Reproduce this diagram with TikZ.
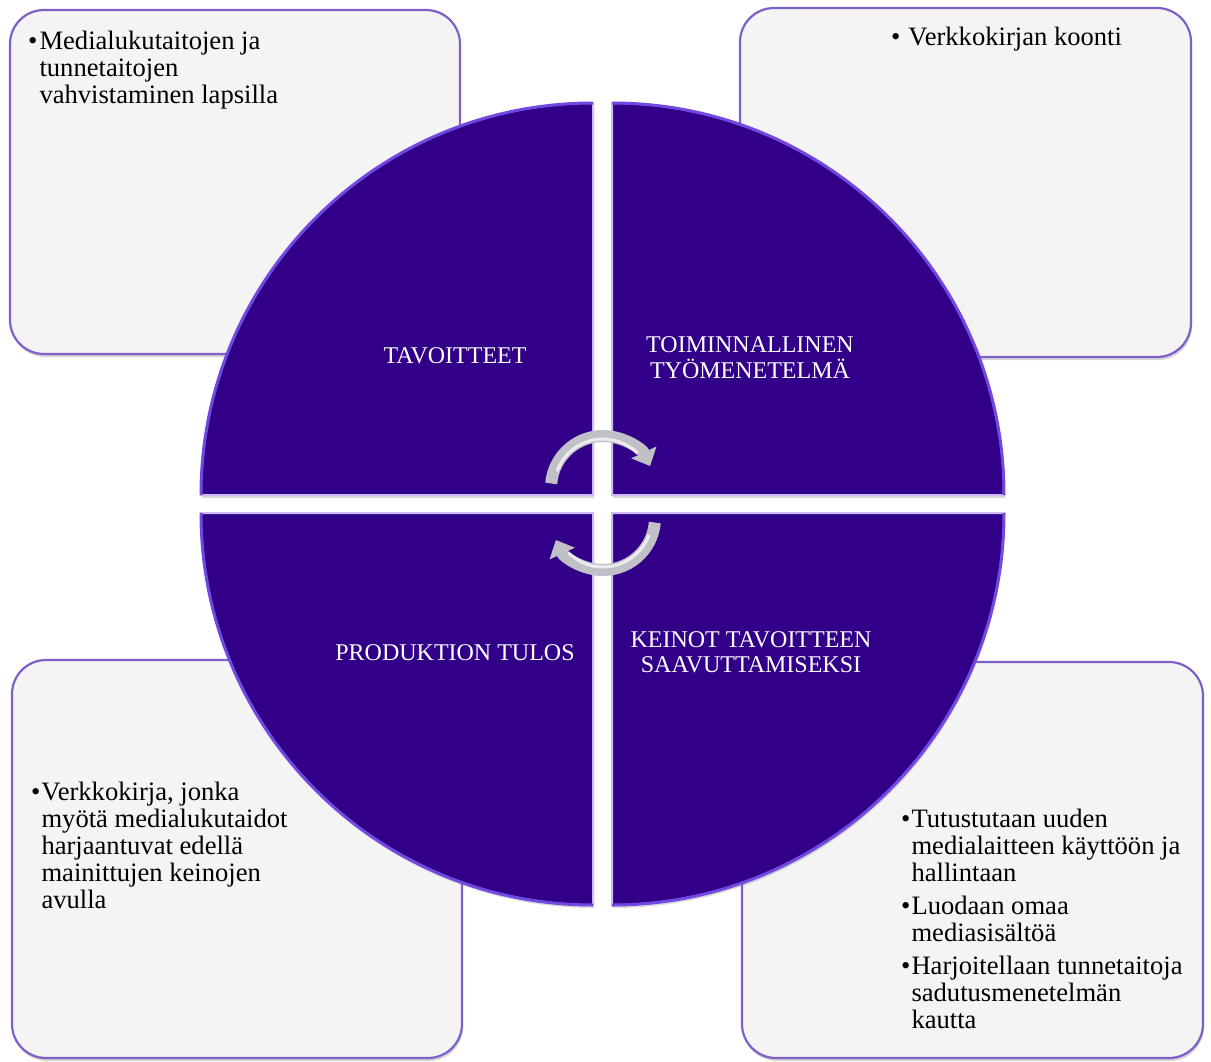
\documentclass[tikz,border=0pt]{standalone}
\usepackage{fontspec}
\setmainfont{Liberation Serif}
\usetikzlibrary{arrows.meta, shadows}
\definecolor{discpurple}{RGB}{50,0,136}
\definecolor{rimpurple}{RGB}{112,72,226}
\definecolor{edgelilac}{RGB}{205,185,245}
\definecolor{boxline}{RGB}{128,96,200}
\definecolor{boxfill}{RGB}{244,244,244}
\definecolor{silver}{RGB}{192,192,198}
\newcommand\bodyfont{\fontsize{26.6}{27}\selectfont}
\newcommand\titlefont{\fontsize{24}{25}\selectfont}

\begin{document}
\begin{tikzpicture}[x=1pt,y=-1pt,
  infobox/.style={draw=boxline, line width=2.2pt, fill=boxfill, rounded corners=34pt,
    drop shadow={opacity=.35,shadow xshift=1pt,shadow yshift=-3pt}},
  bullets/.style={anchor=base west, inner sep=0pt, font=\bodyfont},
  title/.style={anchor=base, inner sep=0pt, text=white, font=\titlefont},
  quarter/.style={fill=discpurple, draw=edgelilac, line width=2pt,
    drop shadow={opacity=.3,shadow xshift=1pt,shadow yshift=-3pt}},
  rim/.style={draw=rimpurple, line width=3pt},
  turn/.style={line width=12pt, draw=silver, -{Triangle[length=15pt,width=27pt]}},
  gleam/.style={line width=3pt, draw=white, opacity=.7}]
\useasboundingbox (0,0) rectangle (1211,1061);
%
\node[infobox, minimum width=450pt, minimum height=344pt] (goalbox) at (235,182) {};
\node[infobox, minimum width=451pt, minimum height=349pt] (methodbox) at (965.5,182.5) {};
\node[infobox, minimum width=450pt, minimum height=398pt] (resultbox) at (237,859) {};
\node[infobox, minimum width=461pt, minimum height=396pt] (meansbox) at (972.5,860) {};
%
\node[bullets] (goaltext) at (28,49) {\begin{tabular}[t]{@{}l@{\hspace{2pt}}l@{}}
  \textbullet & Medialukutaitojen ja\\ & tunnetaitojen\\ & vahvistaminen lapsilla\end{tabular}};
\node[bullets] (methodtext) at (891,45) {\begin{tabular}[t]{@{}l@{\hspace{8pt}}l@{}}
  \textbullet & Verkkokirjan koonti\end{tabular}};
\node[bullets] (resulttext) at (31,800) {\begin{tabular}[t]{@{}l@{\hspace{1pt}}l@{}}
  \textbullet & Verkkokirja, jonka\\ & myötä medialukutaidot\\ & harjaantuvat edellä\\
  & mainittujen keinojen\\ & avulla\end{tabular}};
\node[bullets] (meanstext) at (901,827) {\begin{tabular}[t]{@{}l@{\hspace{1pt}}l@{}}
  \textbullet & Tutustutaan uuden\\ & medialaitteen käyttöön ja\\ & hallintaan\\[6pt]
  \textbullet & Luodaan omaa\\ & mediasisältöä\\[6pt]
  \textbullet & Harjoitellaan tunnetaitoja\\ & sadutusmenetelmän\\ & kautta\end{tabular}};
%
\filldraw[quarter] (593,495) -- (201,495) arc[start angle=180,end angle=270,radius=392] -- cycle;
\filldraw[quarter] (612,495) -- (612,103) arc[start angle=270,end angle=360,radius=392] -- cycle;
\filldraw[quarter] (612,513) -- (1004,513) arc[start angle=0,end angle=90,radius=392] -- cycle;
\filldraw[quarter] (593,513) -- (593,905) arc[start angle=90,end angle=180,radius=392] -- cycle;
\draw[rim] (201,495) arc[start angle=180,end angle=270,radius=392];
\draw[rim] (612,103) arc[start angle=270,end angle=360,radius=392];
\draw[rim] (1004,513) arc[start angle=0,end angle=90,radius=392];
\draw[rim] (593,905) arc[start angle=90,end angle=180,radius=392];
%
\node[title] (goal) at (455,363) {TAVOITTEET};
\node[title] (method) at (750,352) {\begin{tabular}[t]{@{}c@{}}TOIMINNALLINEN\\TYÖMENETELMÄ\end{tabular}};
\node[title] (result) at (455,660) {PRODUKTION TULOS};
\node[title] (means) at (751,647) {\begin{tabular}[t]{@{}c@{}}KEINOT TAVOITTEEN\\SAAVUTTAMISEKSI\end{tabular}};
%
\draw[turn] (603,488) ++(185:52) arc[start angle=185,end angle=335,radius=52];
\draw[turn] (603,518) ++(5:52) arc[start angle=5,end angle=155,radius=52];
\draw[gleam] (603,488) ++(200:49) arc[start angle=200,end angle=315,radius=49];
\draw[gleam] (603,518) ++(20:49) arc[start angle=20,end angle=135,radius=49];
\end{tikzpicture}
\end{document}
